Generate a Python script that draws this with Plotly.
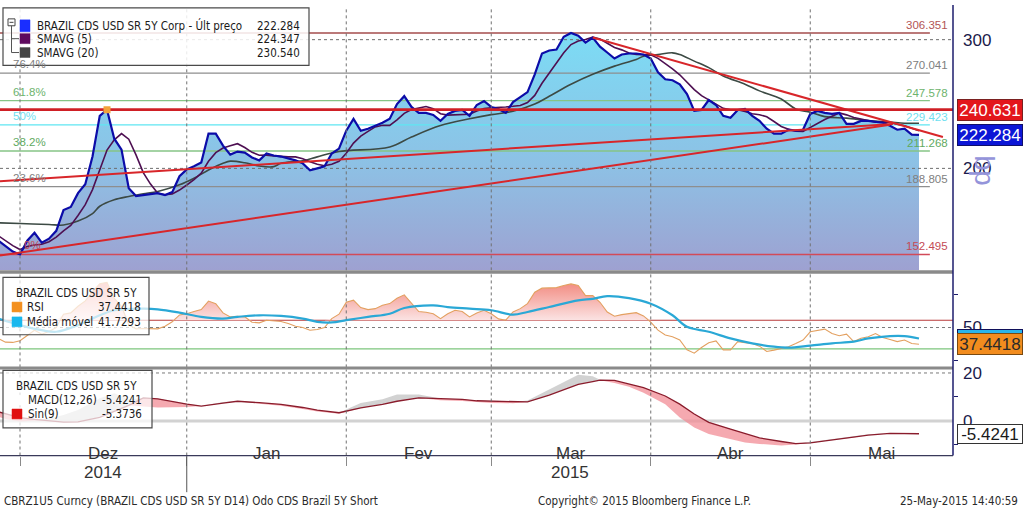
import numpy as np
import pandas as pd
import plotly.graph_objects as go

# ---------------- data ----------------
dates = pd.bdate_range("2014-11-26", "2015-05-22")

price = [159.3, 156.8, 153.9, 152.5, 159.3, 163.3, 158.3, 160.3, 164.3, 175.4,
         177.1, 185.0, 190.3, 207.6, 236.0, 240.63, 219.6, 212.2, 187.9, 183.3,
         183.9, 184.4, 185.0, 183.9, 185.6, 195.1, 199.4, 201.3, 203.8, 223.1,
         223.1, 214.9, 208.9, 210.9, 210.2, 207.0, 205.1, 209.6, 208.3, 207.6,
         206.3, 205.1, 203.2, 198.8, 200.0, 201.3, 209.6, 212.9, 225.2, 233.8,
         225.2, 226.6, 228.7, 230.9, 233.8, 244.9, 251.1, 242.7, 238.2, 238.2,
         236.7, 232.3, 237.4, 239.7, 240.4, 236.0, 244.2, 247.3, 242.7, 241.2,
         238.2, 246.5, 250.4, 254.3, 269.0, 287.2, 289.9, 290.8, 302.8, 306.35,
         303.8, 297.2, 301.9, 293.5, 288.1, 282.7, 286.3, 287.2, 287.2, 286.3,
         282.7, 270.7, 264.8, 264.0, 260.7, 252.7, 239.7, 240.4, 248.0, 244.2,
         236.0, 234.5, 240.4, 241.2, 236.0, 232.3, 226.6, 223.1, 223.1, 225.9,
         225.2, 225.9, 237.4, 239.7, 238.2, 237.4, 238.2, 230.1, 230.1, 232.3,
         232.3, 231.6, 230.9, 228.7, 225.9, 226.6, 222.4, 222.284]

sma5_head = [161.8, 159.3, 156.8, 154.9]

sma20_idx = [0, 3, 7, 9, 11, 13, 14, 16, 18, 20, 22, 25, 27, 29, 31, 32, 34, 36, 38, 39,
             42, 44, 47, 54, 57, 61, 65, 68, 71, 74, 76, 79, 82, 85, 88, 89, 91, 93, 94,
             96, 98, 100, 103, 105, 108, 110, 112, 114, 117, 120, 123, 125, 127]
sma20_val = [168.5, 168.1, 167.6, 167.3, 169.4, 173.5, 177.5, 181.2, 183.1, 184.6, 186.0,
             189.9, 193.9, 199.0, 203.2, 204.6, 203.6, 201.5, 201.1, 203.2, 204.9, 207.4,
             210.9, 214.0, 220.8, 228.9, 233.8, 236.9, 239.4, 244.9, 251.0, 260.7, 269.0,
             276.0, 281.9, 284.8, 286.3, 287.8, 286.3, 280.4, 274.7, 267.6, 260.7, 255.3,
             248.8, 241.2, 238.7, 235.4, 234.3, 232.5, 231.4, 230.6, 230.54]

rsi = [41.8, 39.0, 38.8, 40.0, 44.0, 48.0, 45.0, 47.0, 50.0, 60.0,
       61.0, 66.0, 70.0, 77.0, 83.0, 84.0, 72.0, 66.0, 52.0, 49.0,
       49.3, 49.2, 49.0, 51.0, 54.3, 59.5, 60.4, 62.0, 63.5, 69.9,
       67.9, 61.0, 58.0, 58.5, 58.0, 54.0, 53.5, 55.5, 55.0, 54.5,
       53.0, 51.0, 50.0, 48.0, 48.5, 50.0, 56.7, 60.0, 69.0, 70.6,
       65.0, 63.5, 64.2, 66.7, 68.0, 72.0, 74.6, 68.0, 62.0, 61.5,
       60.4, 56.7, 60.4, 63.0, 62.0, 58.0, 61.0, 63.0, 60.4, 56.5,
       55.5, 61.7, 64.2, 68.0, 76.6, 79.6, 79.6, 80.0, 81.6, 82.8,
       81.6, 74.0, 74.1, 69.0, 61.7, 58.5, 59.7, 60.5, 61.2, 58.7,
       54.0, 48.0, 44.4, 43.0, 40.6, 33.2, 30.7, 35.0, 38.5, 39.9,
       33.2, 33.2, 39.4, 38.5, 38.0, 36.0, 32.0, 33.0, 34.4, 35.6,
       38.0, 40.6, 46.8, 48.0, 48.8, 45.5, 43.8, 45.0, 39.4, 42.0,
       43.0, 45.5, 42.5, 41.0, 39.4, 40.6, 38.0, 37.44]

rsi_ma_idx = [0, 3, 6, 8, 11, 14, 16, 20, 22, 25, 28, 31, 33, 36, 39, 42, 44, 46, 48, 51,
              54, 56, 60, 62, 65, 68, 71, 73, 76, 80, 82, 84, 87, 90, 93, 95, 98, 101,
              104, 107, 109, 112, 115, 118, 120, 123, 125, 127]
rsi_ma_val = [56.7, 51.8, 48.0, 46.8, 51.8, 59.2, 63.0, 64.2, 63.7, 61.2, 58.0, 56.7, 58.0,
              59.2, 58.7, 56.7, 54.3, 53.8, 55.5, 58.0, 60.4, 64.7, 66.7, 65.4, 64.2, 63.0,
              59.7, 61.7, 65.4, 70.4, 71.6, 73.6, 72.1, 67.9, 59.2, 50.5, 46.8, 41.8, 38.1,
              35.6, 34.9, 36.4, 38.1, 39.4, 41.8, 43.6, 43.6, 41.73]

macd_idx = [0, 1, 3, 5, 7, 9, 11, 14, 16, 18, 20, 22, 26, 28, 31, 33, 36, 39, 42, 44, 47,
            50, 53, 55, 58, 61, 64, 66, 68, 71, 73, 76, 79, 80, 82, 83, 85, 87, 89, 92, 94,
            96, 98, 101, 103, 105, 108, 110, 112, 115, 118, 120, 123, 127]
signal_val = [3.8, 2.9, 1.4, 0.6, 0.0, -0.5, -0.4, 1.5, 4.0, 6.5, 9.6, 9.2, 7.0, 6.2, 7.4,
              8.2, 7.6, 6.9, 5.6, 4.5, 3.4, 5.4, 6.9, 8.2, 9.6, 9.4, 9.0, 8.4, 8.2, 7.9, 7.9,
              10.8, 14.3, 15.2, 16.4, 17.0, 16.9, 15.4, 13.9, 10.4, 7.0, 2.9, -0.6, -3.4,
              -5.4, -7.1, -8.6, -9.5, -9.2, -8.0, -6.9, -5.9, -5.2, -5.3736]
macd_val = [1.8, 0.8, -0.3, 0.2, 1.0, 2.5, 4.5, 9.5, 11.5, 9.0, 6.0, 5.6, 5.8, 6.2, 7.9,
            8.3, 7.2, 6.3, 5.0, 3.9, 3.0, 7.5, 9.0, 11.0, 11.0, 8.6, 8.3, 7.9, 7.5, 7.4, 8.5,
            13.2, 17.9, 19.3, 18.6, 17.2, 15.8, 14.3, 11.8, 6.9, 1.4, -2.8, -5.5, -7.6, -9.0,
            -9.6, -10.3, -9.9, -8.8, -7.5, -6.5, -5.6, -5.2, -5.4241]

fib_levels = [306.351, 270.041, 247.578, 229.423, 211.268, 188.805, 152.495]
fib_pct = ["", "76.4%", "61.8%", "50%", "38.2%", "23.6%", "0%"]
fib_line_col = ["#a44c4c", "#8e8e8e", "#86c486", "#5fe6f2", "#86c486", "#8e8e8e", "#d24a58"]
fib_text_col = ["#b25555", "#808080", "#6db46d", "#6fe0f0", "#5faa5f", "#808080", "#c44a55"]
resistance = 240.631

trend_lower_x, trend_lower_y = [0.24, 123.0], [152.0, 229.4]
trend_mid_x, trend_mid_y = [0.24, 123.4], [192.1, 230.1]
trend_down_x, trend_down_y = [82.0, 130.3], [302.0, 220.8]

last_price, last_sma5, last_sma20 = 222.284, 224.347, 230.540
rsi_last, rsi_ma_last = 37.4418, 41.7293
macd_last, sig_last = -5.4241, -5.3736
rsi_hi, rsi_lo = 55.5, 34.0
month_names = ["Dez", "Jan", "Fev", "Mar", "Abr", "Mai"]

# ---------------- helpers ----------------
W, H = 1024, 510
x = np.arange(len(dates))
n = len(dates)
XR = [0.24, 131.69]
Y1R = [2.16153, 2.52182]
Y2R = [20, 90]
Y3R = [-14.46, 21.5]
y_base = 10 ** Y1R[0]
FIB_END = 128.5

month_starts = [i for i in range(1, n) if dates[i].month != dates[i - 1].month]
year_start = [i for i in month_starts if dates[i].year != dates[i - 1].year][0]

sma5 = sma5_head + list(pd.Series(price).rolling(5).mean().iloc[4:].round(2))

FONT = "DejaVu Sans Condensed, Liberation Sans Narrow, Liberation Sans, sans-serif"
FONT_R = "Liberation Sans, Arial, sans-serif"
LEG = 11.5


def P(px):
    return px / W


def Q(py):
    return 1 - py / H


shapes, ann = [], []


def rect(x0, y0, x1, y1, fill, line="#555", lw=1.0):
    shapes.append(dict(type="rect", xref="paper", yref="paper", x0=P(x0), x1=P(x1),
                       y0=Q(y1), y1=Q(y0), fillcolor=fill,
                       line=dict(color=line, width=lw), layer="above"))


def pline(x0, y0, x1, y1, color, w=1.0, dash="solid"):
    shapes.append(dict(type="line", xref="paper", yref="paper", x0=P(x0), x1=P(x1),
                       y0=Q(y0), y1=Q(y1), line=dict(color=color, width=w, dash=dash),
                       layer="above"))


def text(px, py, s, size=LEG, color="#1a1a1a", anchor="left", family=FONT):
    ann.append(dict(xref="paper", yref="paper", x=P(px), y=Q(py), text=s, showarrow=False,
                    xanchor=anchor, yanchor="middle",
                    font=dict(family=family, size=size, color=color)))


fig = go.Figure()

# ---------------- main panel ----------------
fig.add_trace(go.Scatter(x=x, y=[y_base] * n, mode="lines", line=dict(width=0),
                         hoverinfo="skip", showlegend=False))
fig.add_trace(go.Scatter(x=x, y=price, mode="lines", line=dict(width=0), fill="tonexty",
                         fillgradient=dict(type="vertical",
                                           colorscale=[[0, "#9ea1d1"], [0.45, "#8dc1e5"],
                                                       [1, "#7cdcf5"]]),
                         hoverinfo="skip", showlegend=False))
for v in [200, 300]:
    fig.add_trace(go.Scatter(x=XR, y=[v, v], mode="lines",
                             line=dict(color="#6e6e6e", width=1, dash="dot"),
                             hoverinfo="skip", showlegend=False))
for v, c in zip(fib_levels, fib_line_col):
    fig.add_trace(go.Scatter(x=[XR[0], FIB_END], y=[v, v], mode="lines",
                             line=dict(color=c, width=1.3), hoverinfo="skip",
                             showlegend=False))
fig.add_trace(go.Scatter(x=sma20_idx, y=sma20_val, mode="lines",
                         line=dict(color="#3c4a44", width=1.6, shape="spline"),
                         showlegend=False))
fig.add_trace(go.Scatter(x=x, y=sma5, mode="lines", line=dict(color="#4e1052", width=1.6),
                         showlegend=False))
fig.add_trace(go.Scatter(x=x, y=price, mode="lines", line=dict(color="#0c0ca8", width=2.2),
                         showlegend=False))
for tx, ty in [(trend_lower_x, trend_lower_y), (trend_mid_x, trend_mid_y),
               (trend_down_x, trend_down_y)]:
    fig.add_trace(go.Scatter(x=tx, y=ty, mode="lines", line=dict(color="#d8262a", width=2),
                             showlegend=False))
fig.add_trace(go.Scatter(x=XR, y=[resistance, resistance], mode="lines",
                         line=dict(color="#cf1f25", width=2.6), showlegend=False))
peak_i = int(np.argmax(price[:40]))
fig.add_trace(go.Scatter(x=[x[peak_i]], y=[price[peak_i]], mode="markers",
                         marker=dict(symbol="square", size=7, color="#f2a23a"),
                         showlegend=False))

# ---------------- RSI panel ----------------
fig.add_trace(go.Scatter(x=XR, y=[rsi_hi, rsi_hi], mode="lines",
                         line=dict(color="#b83a3a", width=1.1), xaxis="x2", yaxis="y2",
                         showlegend=False))
fig.add_trace(go.Scatter(x=XR, y=[rsi_lo, rsi_lo], mode="lines",
                         line=dict(color="#7cc67c", width=1.3), xaxis="x2", yaxis="y2",
                         showlegend=False))
fig.add_trace(go.Scatter(x=XR, y=[50, 50], mode="lines",
                         line=dict(color="#7a7a7a", width=1, dash="dot"), xaxis="x2",
                         yaxis="y2", showlegend=False))
fig.add_trace(go.Scatter(x=x, y=[rsi_hi] * n, mode="lines", line=dict(width=0),
                         xaxis="x2", yaxis="y2", hoverinfo="skip", showlegend=False))
fig.add_trace(go.Scatter(x=x, y=np.maximum(rsi, rsi_hi), mode="lines", line=dict(width=0),
                         fill="tonexty",
                         fillgradient=dict(type="vertical",
                                           colorscale=[[0, "#fbe3e3"], [1, "#f28a80"]]),
                         xaxis="x2", yaxis="y2", hoverinfo="skip", showlegend=False))
fig.add_trace(go.Scatter(x=x, y=rsi, mode="lines", line=dict(color="#e3a060", width=1.1),
                         xaxis="x2", yaxis="y2", showlegend=False))
fig.add_trace(go.Scatter(x=rsi_ma_idx, y=rsi_ma_val, mode="lines",
                         line=dict(color="#2aa8d6", width=2.2, shape="spline"),
                         xaxis="x2", yaxis="y2", showlegend=False))

# ---------------- MACD panel ----------------
fig.add_trace(go.Scatter(x=XR, y=[20, 20], mode="lines",
                         line=dict(color="#7a7a7a", width=1, dash="dot"), xaxis="x3",
                         yaxis="y3", showlegend=False))
fig.add_trace(go.Scatter(x=XR, y=[0, 0], mode="lines", line=dict(color="#d2d2d2", width=3),
                         xaxis="x3", yaxis="y3", showlegend=False))
fig.add_trace(go.Scatter(x=macd_idx, y=signal_val, mode="lines", line=dict(width=0),
                         xaxis="x3", yaxis="y3", hoverinfo="skip", showlegend=False))
fig.add_trace(go.Scatter(x=macd_idx, y=np.minimum(macd_val, signal_val), mode="lines",
                         line=dict(width=0), fill="tonexty",
                         fillcolor="rgba(242,140,150,0.75)", xaxis="x3", yaxis="y3",
                         hoverinfo="skip", showlegend=False))
fig.add_trace(go.Scatter(x=macd_idx, y=signal_val, mode="lines", line=dict(width=0),
                         xaxis="x3", yaxis="y3", hoverinfo="skip", showlegend=False))
fig.add_trace(go.Scatter(x=macd_idx, y=np.maximum(macd_val, signal_val), mode="lines",
                         line=dict(width=0), fill="tonexty", fillcolor="rgba(205,205,205,0.9)",
                         xaxis="x3", yaxis="y3", hoverinfo="skip", showlegend=False))
fig.add_trace(go.Scatter(x=macd_idx, y=signal_val, mode="lines",
                         line=dict(color="#8a1c2c", width=1.3), xaxis="x3", yaxis="y3",
                         showlegend=False))

# ---------------- right-side pointers (markers just outside the plot) ----------------
def pointer(yv, color, axis, size=13, sym="triangle-left", dx=0.25):
    fig.add_trace(go.Scatter(x=[XR[1] + dx], y=[yv], mode="markers",
                             marker=dict(symbol=sym, size=size, color=color,
                                         line=dict(width=0)),
                             cliponaxis=False, xaxis=axis[0], yaxis=axis[1],
                             hoverinfo="skip", showlegend=False))


for v in [200, 300]:
    pointer(v, "#1c1c8c", ("x", "y"), size=7, sym="triangle-right", dx=0.55)
pointer(50, "#1c1c8c", ("x2", "y2"), size=7, sym="triangle-right", dx=0.55)
for v in [0, 20]:
    pointer(v, "#1c1c8c", ("x3", "y3"), size=7, sym="triangle-right", dx=0.55)
pointer(resistance, "#e3161b", ("x", "y"))
pointer(last_price, "#0c16d6", ("x", "y"))
pointer(rsi_ma_last, "#2ab4ea", ("x2", "y2"))
pointer(rsi_last, "#f28c1e", ("x2", "y2"))
pointer(macd_last, "#333333", ("x3", "y3"), size=14)
pointer(macd_last, "#ffffff", ("x3", "y3"), size=11, dx=0.35)


# value boxes
def vbox(yv, yref, s, bg, fg, border, h=18):
    ann.append(dict(xref="paper", yref=yref, x=P(957), y=yv, xanchor="left",
                    yanchor="middle", text=s, showarrow=False, bgcolor=bg,
                    bordercolor=border, borderwidth=1, borderpad=1, width=62, height=h,
                    font=dict(family=FONT_R, size=17, color=fg)))


vbox(np.log10(resistance), "y", "240.631", "#e3161b", "white", "#7a2020")
vbox(np.log10(last_price), "y", "222.284", "#0c16d6", "white", "#10106a")
# moving-average box sits underneath the RSI box (its value is in the RSI legend)
ann.append(dict(xref="paper", yref="y2", x=P(957), y=rsi_ma_last, xanchor="left",
                yanchor="middle", text=" ", showarrow=False, bgcolor="#2ab4ea",
                bordercolor="#10105a", borderwidth=1, borderpad=1, width=62, height=16,
                font=dict(family=FONT_R, size=10, color="#2ab4ea")))
vbox(rsi_last, "y2", "37.4418", "#f28c1e", "#2a2a2a", "#7a4a10")
vbox(macd_last, "y3", "-5.4241", "white", "#1a1a1a", "#333333", h=16)

# fib labels
for v, pct, c in zip(fib_levels, fib_pct, fib_text_col):
    ann.append(dict(xref="paper", yref="y", x=P(950), y=np.log10(v), xanchor="right",
                    yanchor="bottom", text=f"{v:.3f}", showarrow=False,
                    font=dict(family=FONT_R, size=11.5, color=c)))
    if pct:
        ann.append(dict(xref="x", yref="y", x=3.3 if pct == "0%" else 1.8,
                        y=np.log10(v), xanchor="left", yanchor="bottom", text=pct,
                        showarrow=False, yshift=1,
                        font=dict(family=FONT_R, size=11.5, color=c)))

# bp axis title
ann.append(dict(xref="paper", yref="paper", x=P(1001), y=Q(150), text="bp", textangle=90,
                showarrow=False, font=dict(family=FONT_R, size=27, color="#9494da")))

# month / year labels
MFONT = dict(family=FONT_R, size=17, color="#333333")
bounds = month_starts + [XR[1]]
for k, name in enumerate(month_names):
    cx = (bounds[k] + bounds[k + 1]) / 2
    ann.append(dict(xref="x", yref="paper", x=cx, y=Q(465), text=name, showarrow=False,
                    font=MFONT))
ann.append(dict(xref="x", yref="paper", x=(month_starts[0] + month_starts[1]) / 2,
                y=Q(484), text="2014", showarrow=False, font=MFONT))
ann.append(dict(xref="x", yref="paper", x=(year_start + XR[1]) / 2, y=Q(484), text="2015",
                showarrow=False, font=MFONT))

# footer
text(2, 501, "CBRZ1U5 Curncy (BRAZIL CDS USD SR 5Y D14) Odo CDS Brazil 5Y Short", 11.5,
     "#2a2a2a")
text(536, 501, "Copyright© 2015 Bloomberg Finance L.P.", 11.5, "#2a2a2a")
text(1020, 501, "25-May-2015 14:40:59", 11.5, "#2a2a2a", anchor="right")

# ---------------- decorations ----------------
for ms in month_starts:
    for yr in ["y domain", "y2 domain", "y3 domain"]:
        shapes.append(dict(type="line", xref="x", yref=yr, x0=ms, x1=ms, y0=0, y1=1,
                           line=dict(color="#707070", width=1, dash="dot"), layer="above"))
shapes.append(dict(type="line", xref="x", yref="paper", x0=year_start, x1=year_start,
                   y0=Q(455), y1=Q(492), line=dict(color="#555", width=1), layer="above"))

rect(0, 268, 953, 271.5, "#8a8a8a", "#8a8a8a", 0)
rect(0, 365, 953, 368, "#8a8a8a", "#8a8a8a", 0)
pline(953, 0, 953, 455, "#1c1c6c", 1.5)
pline(0, 455, 953, 455, "#3a3a5a", 1.2)

# main legend
rect(3, 3, 309, 61, "rgba(255,255,255,0.85)", "#4a4a4a", 1.2)
rect(8, 14, 15, 21, "white", "#444", 1)
pline(9.5, 17.5, 13.5, 17.5, "#444", 1)
pline(11.5, 21, 11.5, 48, "#555", 1)
pline(11.5, 34, 19, 34, "#555", 1)
pline(11.5, 48, 19, 48, "#555", 1)
rect(20, 15, 30, 27, "#1a2eff", "#1a2eff", 0.5)
rect(20, 29, 30, 39, "#5e0a5e", "#5e0a5e", 0.5)
rect(20, 43, 30, 53, "#454545", "#454545", 0.5)
text(35, 21, "BRAZIL CDS USD SR 5Y Corp - Últ preço")
text(302, 21, f"{last_price:.3f}", anchor="right")
text(35, 34, "SMAVG (5)")
text(302, 34, f"{last_sma5:.3f}", anchor="right")
text(35, 48, "SMAVG (20)")
text(302, 48, f"{last_sma20:.3f}", anchor="right")

# RSI legend
rect(3, 275, 149, 333, "rgba(255,255,255,0.72)", "#4a4a4a", 1.2)
text(14, 291, "BRAZIL CDS USD SR 5Y")
rect(12, 300, 22, 310, "#f39020", "#f39020", 0.5)
text(25, 305, "RSI")
text(143, 305, f"{rsi_last:.4f}", anchor="right")
rect(12, 315, 22, 325, "#1ab8ee", "#1ab8ee", 0.5)
text(25, 320, "Média móvel")
text(143, 320, f"{rsi_ma_last:.4f}", anchor="right")

# MACD legend
rect(3, 369, 152, 427, "rgba(255,255,255,0.72)", "#4a4a4a", 1.2)
text(14, 385, "BRAZIL CDS USD SR 5Y")
rect(12, 394, 22, 404, "white", "white", 0.5)
text(26, 399, "MACD(12,26)")
text(144, 399, f"{macd_last:.4f}", anchor="right")
rect(12, 408, 22, 418, "#e01010", "#e01010", 0.5)
text(26, 413, "Sin(9)")
text(144, 413, f"{sig_last:.4f}", anchor="right")

# ---------------- layout ----------------
XD = [0, P(953)]
common_x = dict(range=XR, domain=XD, tickvals=month_starts, showticklabels=False,
                showgrid=False, zeroline=False, showline=False, ticks="")
tickfont = dict(family=FONT_R, size=17, color="#1a1a4a")

fig.update_layout(
    width=W, height=H, margin=dict(l=0, r=0, t=0, b=0),
    paper_bgcolor="white", plot_bgcolor="white", showlegend=False,
    xaxis=dict(anchor="y", **common_x),
    xaxis2=dict(anchor="y2", matches="x", **common_x),
    xaxis3=dict(anchor="y3", matches="x", **{**common_x, "ticks": "outside"},
                ticklen=9, tickcolor="#8a8a8a"),
    yaxis=dict(domain=[Q(268), Q(2)], type="log", range=Y1R, side="right", anchor="x",
               tickvals=[200, 300], ticktext=["200", "300"], showgrid=False,
               zeroline=False, ticks="", tickfont=tickfont, ticklabelstandoff=9),
    yaxis2=dict(domain=[Q(366), Q(272)], range=Y2R, side="right", anchor="x2",
                tickvals=[50], ticktext=["50"], showgrid=False, zeroline=False, ticks="",
                tickfont=tickfont, ticklabelstandoff=9,
                minor=dict(tickvals=[25, 75], ticks="outside", ticklen=4,
                           tickcolor="#1c1c6c", showgrid=False)),
    yaxis3=dict(domain=[Q(455), Q(368)], range=Y3R, side="right", anchor="x3",
                tickvals=[0, 20], ticktext=["0", "20"], showgrid=False, zeroline=False,
                ticks="", tickfont=tickfont, ticklabelstandoff=9,
                minor=dict(tickvals=[-10, 10], ticks="outside", ticklen=4,
                           tickcolor="#1c1c6c", showgrid=False)),
    shapes=shapes, annotations=ann,
)

fig.write_html("out.html", config={"displayModeBar": False},
               post_script="document.body.style.margin='0px';"
                           "document.body.style.overflow='hidden';")
